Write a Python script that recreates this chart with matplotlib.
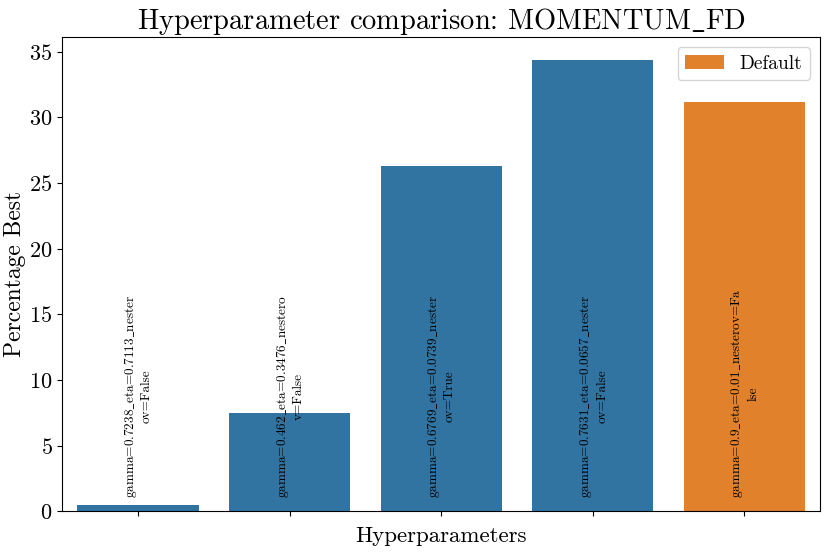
import textwrap
import numpy as np
import matplotlib
matplotlib.use("Agg")
import matplotlib.pyplot as plt

# data
configs = [
    'gamma=0.7238_eta=0.7113_nesterov=False',
    'gamma=0.462_eta=0.3476_nesterov=False',
    'gamma=0.6769_eta=0.0739_nesterov=True',
    'gamma=0.7631_eta=0.0657_nesterov=False',
    'gamma=0.9_eta=0.01_nesterov=False',
]
percentage_best = [0.5, 7.5, 26.3, 34.4, 31.2]
is_default = [False, False, False, False, True]

plt.rcParams['font.family'] = ['cmr10', 'DejaVu Serif']
plt.rcParams['mathtext.fontset'] = 'cm'
plt.rcParams['axes.formatter.use_mathtext'] = True


def tex_safe(s):
    # cmr10 has no real underscore glyph, draw it via mathtext
    return s.replace('_', r'$\_$')


blue = '#3274a1'
orange = '#e1812c'

fig, ax = plt.subplots(figsize=(8.3, 5.54), dpi=100)
x = np.arange(len(configs))
colors = [orange if d else blue for d in is_default]
bars = ax.bar(x, percentage_best, width=0.8, color=colors)
ax.set_xlim(-0.5, len(configs) - 0.5)

# legend only for the default
ax.legend([bars[-1]], ['Default'], fontsize=14, loc='upper right')

for xi, name in zip(x, configs):
    label = '\n'.join(tex_safe(l) for l in textwrap.wrap(name, 30))
    ax.text(xi, 1.0, label, rotation=90, ha='center', va='bottom',
            multialignment='center', fontsize=9.5)

ax.set_xticks(x)
ax.set_xticklabels([''] * len(x))
ax.tick_params(axis='y', labelsize=16)
ax.set_xlabel('Hyperparameters', fontsize=16.5)
ax.set_ylabel('Percentage Best', fontsize=17, labelpad=2)
ax.set_title(tex_safe('Hyperparameter comparison: MOMENTUM_FD'), fontsize=20.5)

plt.subplots_adjust(left=0.075, right=0.988, top=0.933, bottom=0.077)
plt.savefig('out.png')
